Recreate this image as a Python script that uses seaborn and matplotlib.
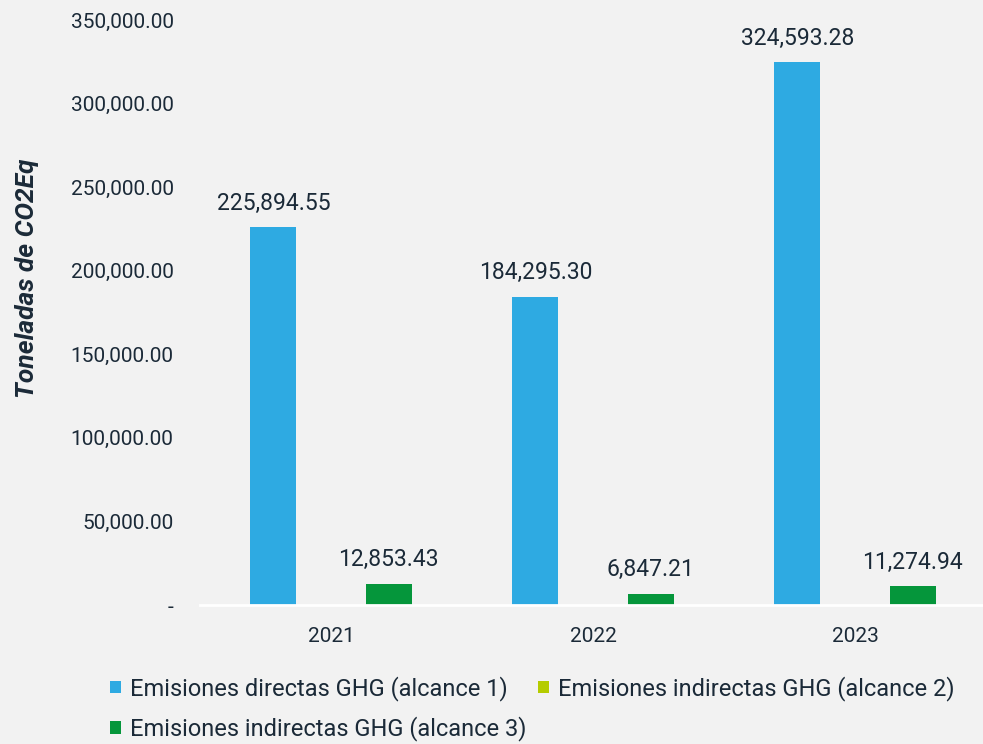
import pandas as pd
import numpy as np
import matplotlib.pyplot as plt
import seaborn as sns
from matplotlib.patches import Patch
from matplotlib.ticker import FuncFormatter

# data
years = ['2021', '2022', '2023']
series = ['Emisiones directas GHG (alcance 1)',
          'Emisiones indirectas GHG (alcance 2)',
          'Emisiones indirectas GHG (alcance 3)']
alcance_1 = [225894.55, 184295.30, 324593.28]
alcance_2 = [0, 0, 0]
alcance_3 = [12853.43, 6847.21, 11274.94]
colors = ['#2EAAE2', '#B5CC00', '#05963B']

df = pd.DataFrame({
    'Year': years * 3,
    'Serie': [series[0]] * 3 + [series[1]] * 3 + [series[2]] * 3,
    'Valor': alcance_1 + alcance_2 + alcance_3,
})

sns.set_theme(style='white')
plt.rcParams['font.family'] = ['Roboto', 'DejaVu Sans']
text_color = '#1B2A38'
bg = '#F2F2F2'

fig = plt.figure(figsize=(9.83, 7.44), dpi=100, facecolor=bg)
ax = fig.add_axes([200 / 983, 1 - 605 / 744, 786 / 983, 585 / 744])
ax.set_facecolor(bg)

sns.barplot(data=df, x='Year', y='Valor', hue='Serie', hue_order=series,
            palette=colors, width=0.66, gap=0.2, saturation=1,
            edgecolor='none', linewidth=0, legend=False, ax=ax)

# value labels, skip the empty series
for cont, s in zip(ax.containers, series):
    labels = [f'{v:,.2f}' if v > 0 else '' for v in cont.datavalues]
    ax.bar_label(cont, labels=labels, padding=9, fontsize=16.5, color=text_color)

ax.set_ylim(0, 350000)
ax.set_xlim(-0.5, 2.5)
ax.set_yticks(np.arange(0, 350001, 50000))
ax.yaxis.set_major_formatter(FuncFormatter(lambda v, p: '-' if v == 0 else f'{v:,.2f}'))
ax.tick_params(axis='y', labelsize=15, colors=text_color, length=0, pad=19)
ax.tick_params(axis='x', labelsize=15, colors=text_color, length=0, pad=16)
ax.set_xlabel('')
ax.set_ylabel('')
for side in ['top', 'right', 'left']:
    ax.spines[side].set_visible(False)
ax.spines['bottom'].set_color('white')
ax.spines['bottom'].set_linewidth(2)

fig.text(27 / 983, 1 - 278 / 744, 'Toneladas de CO2Eq', rotation=90,
         fontsize=19, fontweight='bold', fontstyle='italic',
         color=text_color, ha='center', va='center')

# legend fills by column, so order it to read row by row like the reference
order = [0, 2, 1]
handles = [Patch(facecolor=colors[i], edgecolor='none') for i in order]
leg = fig.legend(handles, [series[i] for i in order], loc='upper left',
                 bbox_to_anchor=(110 / 983, 1 - 676 / 744), ncol=2,
                 frameon=False, fontsize=17, handlelength=0.45, handleheight=0.45,
                 handletextpad=0.4, columnspacing=0.5, labelspacing=0.66,
                 borderpad=0, borderaxespad=0)
for t in leg.get_texts():
    t.set_color(text_color)

fig.savefig('out.png', dpi=100, facecolor=bg)
